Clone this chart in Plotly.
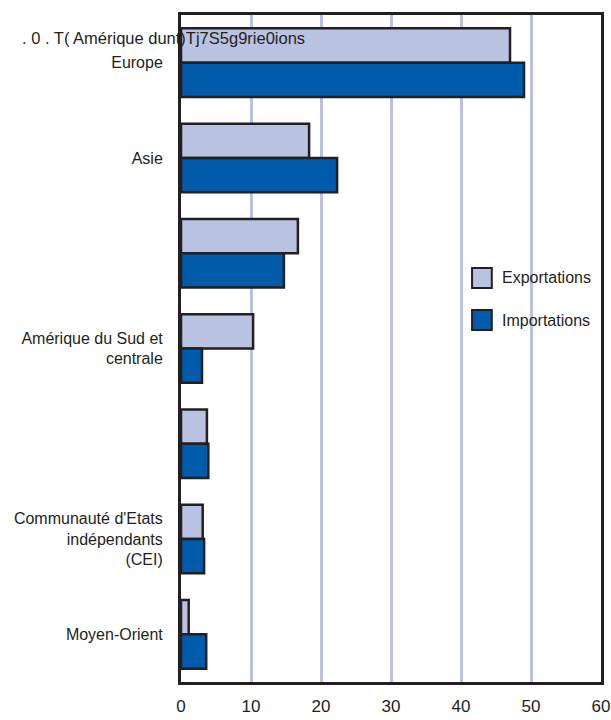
import plotly.graph_objects as go

categories = ["Europe", "Asie", "Amérique du Nord", "Amérique du Sud et centrale",
              "Afrique", "CEI", "Moyen-Orient"]
tick_labels = ["Europe", "Asie", "", "Amérique du Sud et<br>centrale", "",
               "Communauté d'Etats<br>indépendants<br>(CEI)", "Moyen-Orient"]
exportations = [47.0, 18.3, 16.7, 10.3, 3.7, 3.1, 1.1]
importations = [49.0, 22.3, 14.7, 3.0, 3.9, 3.3, 3.6]
x_ticks = [0, 10, 20, 30, 40, 50, 60]
series_names = ["Exportations", "Importations"]
series_colors = ["#b9c3e1", "#005baa"]
stray_text = ". 0 . T( Amérique dunt)Tj7S5g9rie0ions"

FONT = "Liberation Sans, Arial, sans-serif"
DARK = "#231f20"
FS = 16

fig = go.Figure()
for name, vals, col in zip(series_names, [exportations, importations], series_colors):
    fig.add_trace(go.Bar(y=categories, x=vals, orientation="h", name=name,
                         marker=dict(color=col, line=dict(color=DARK, width=2.5))))

fig.update_layout(
    width=611, height=720,
    margin=dict(l=181, r=10, t=15, b=38, autoexpand=False),
    paper_bgcolor="white", plot_bgcolor="white",
    barmode="group", bargap=0.28, bargroupgap=0,
    font=dict(family=FONT, size=FS, color=DARK),
    showlegend=False,
)
fig.update_xaxes(range=[0, 60], tickvals=x_ticks, showgrid=True, automargin=False,
                 gridcolor="#b9c3e1", gridwidth=3, zeroline=False,
                 showline=True, linecolor=DARK, linewidth=3, mirror=True,
                 ticks="", ticklabelstandoff=7, tickfont=dict(size=FS + 1, color=DARK))
fig.update_yaxes(autorange="reversed", tickvals=categories, ticktext=tick_labels,
                 showgrid=False, zeroline=False, showline=True, linecolor=DARK,
                 linewidth=3, mirror=True, ticks="", ticklabelstandoff=12, automargin=False,
                 tickfont=dict(size=FS, color=DARK))
fig.add_annotation(text=stray_text, xref="paper", yref="paper",
                   x=(20 - 181) / 420, y=1 - (38 - 15) / 667,
                   xanchor="left", yanchor="middle", showarrow=False,
                   font=dict(size=16.5, color=DARK, family=FONT))

# legend drawn as boxes + labels
legend_box_y = [(0.6207, 0.5907), (0.5577, 0.5277)]
legend_text_y = [0.6057, 0.5427]
for name, col, (y0, y1), ty in zip(series_names, series_colors, legend_box_y, legend_text_y):
    fig.add_shape(type="rect", xref="paper", yref="paper", x0=0.693, x1=0.740,
                  y0=y1, y1=y0, fillcolor=col, line=dict(color=DARK, width=2))
    fig.add_annotation(text=name, xref="paper", yref="paper", x=0.7595, y=ty,
                       xanchor="left", yanchor="middle", showarrow=False,
                       font=dict(size=FS, color=DARK, family=FONT))

fig.write_html("out.html", config={"displayModeBar": False},
               post_script="document.body.style.margin='0';document.body.style.overflow='hidden';")
